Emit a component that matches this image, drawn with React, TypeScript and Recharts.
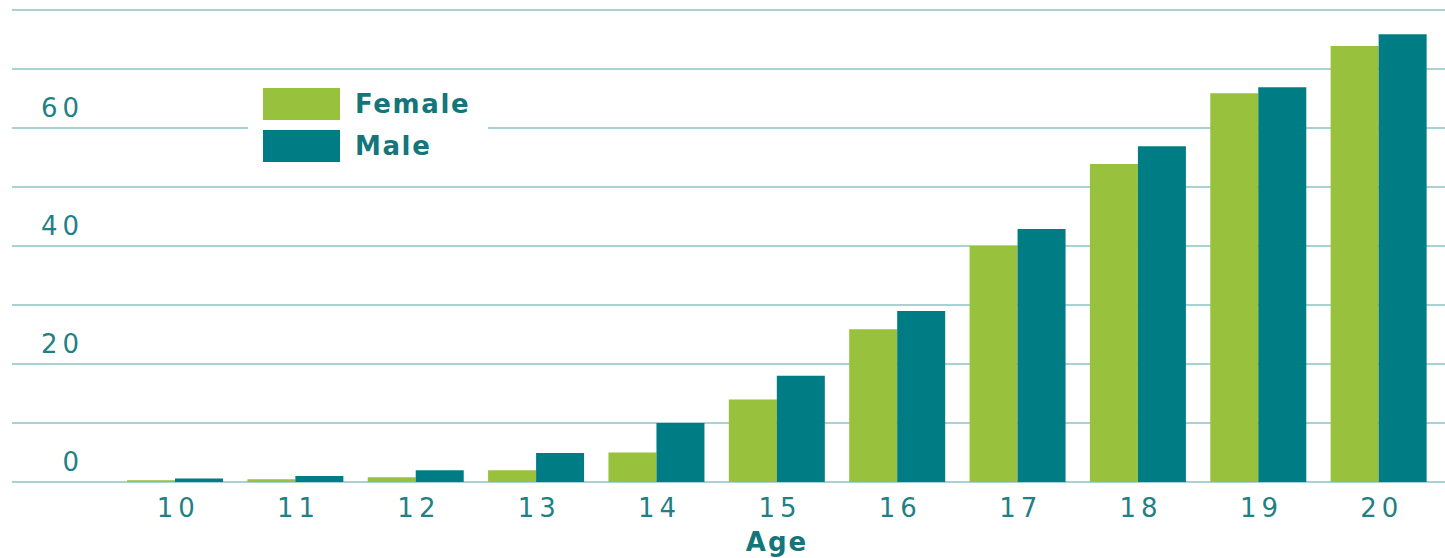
import { BarChart, Bar, XAxis, YAxis, CartesianGrid, Legend } from 'recharts'

const AGES = ['10', '11', '12', '13', '14', '15', '16', '17', '18', '19', '20']
const FEMALE = [0.3, 0.45, 0.8, 2.0, 5.0, 14.0, 25.9, 40.0, 53.9, 65.9, 73.9]
const MALE = [0.6, 1.0, 2.0, 4.9, 10.0, 18.0, 29.0, 42.9, 56.9, 66.9, 75.9]
const Y_TICKS = [0, 10, 20, 30, 40, 50, 60, 70, 80]
const Y_LABEL_STEP = 20

const GREEN = '#98C13D'
const TEAL = '#007C84'
const TEXT = '#1F8085'
const GRID = '#8AC4C6'
// right edge of the y tick labels
const Y_LABEL_RIGHT = 84

const data = AGES.map((age, i) => ({ age, Female: FEMALE[i], Male: MALE[i] }))

const tickFont = { fontFamily: '"DejaVu Sans", sans-serif', fontWeight: 400, fontSize: 26, letterSpacing: 5 }
const boldFont = { fontFamily: '"DejaVu Sans", sans-serif', fontWeight: 700 }

function YTick({ y, payload }: { x?: number; y?: number; payload?: { value: number } }) {
  if (!payload || payload.value % Y_LABEL_STEP !== 0) return <g />
  return (
    <text x={Y_LABEL_RIGHT} y={(y ?? 0) - 11} textAnchor="end" fill={TEXT} style={tickFont}>
      {payload.value}
    </text>
  )
}

function XTick({ x, y, payload }: { x?: number; y?: number; payload?: { value: string } }) {
  return (
    <text x={(x ?? 0) + 3} y={(y ?? 0) + 27} textAnchor="middle" fill={TEXT} style={tickFont}>
      {payload?.value}
    </text>
  )
}

function LegendBox({ payload }: { payload?: { value: string; color: string }[] }) {
  return (
    <div style={{ background: '#fff', width: 240, padding: '4px 0' }}>
      {(payload ?? []).map((p) => (
        <div key={p.value} style={{ display: 'flex', alignItems: 'center', height: 42, marginLeft: 15 }}>
          <div style={{ width: 77, height: 32, background: p.color }} />
          <span style={{ ...boldFont, fontSize: 26, letterSpacing: 1.6, color: '#14767B', marginLeft: 15 }}>{p.value}</span>
        </div>
      ))}
    </div>
  )
}

export default function App() {
  return (
    <div style={{ position: 'absolute', left: 0, top: 0, width: 1445, height: 558, background: '#fff' }}>
      <BarChart
        width={1445}
        height={558}
        data={data}
        margin={{ top: 10, right: 0, bottom: 0, left: 0 }}
        barCategoryGap={12}
        barGap={0}
      >
        <CartesianGrid vertical={false} stroke={GRID} strokeWidth={1.5} />
        <XAxis
          dataKey="age"
          height={76}
          padding={{ left: 103, right: 6 }}
          axisLine={false}
          tickLine={false}
          interval={0}
          tick={<XTick />}
          label={({ viewBox }: { viewBox?: { x: number; y: number; width: number } }) => {
            const vb = viewBox ?? { x: 0, y: 0, width: 0 }
            return (
              <text
                x={vb.x + 103 + (vb.width - 109) / 2}
                y={vb.y + 69}
                textAnchor="middle"
                fill="#14767B"
                style={{ ...boldFont, fontSize: 26, letterSpacing: 2 }}
              >
                Age
              </text>
            )
          }}
        />
        <YAxis
          width={12}
          domain={[0, 80]}
          ticks={Y_TICKS}
          axisLine={false}
          tickLine={false}
          interval={0}
          tick={<YTick />}
        />
        <Legend
          layout="horizontal"
          verticalAlign="middle"
          align="center"
          wrapperStyle={{ left: 248, top: 79, width: 240 }}
          content={<LegendBox />}
        />
        <Bar dataKey="Female" fill={GREEN} isAnimationActive={false} />
        <Bar dataKey="Male" fill={TEAL} isAnimationActive={false} />
      </BarChart>
    </div>
  )
}
